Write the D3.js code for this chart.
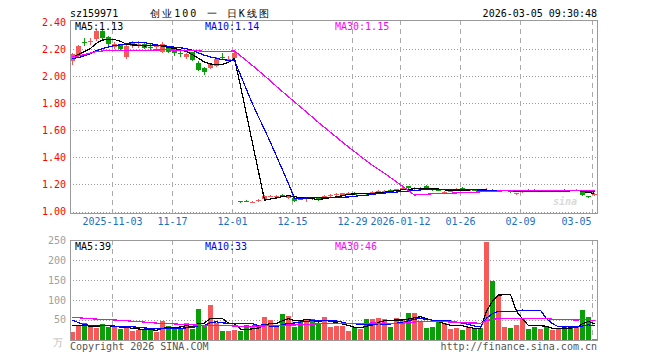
<!DOCTYPE html>
<html><head><meta charset="utf-8">
<script src="https://cdn.jsdelivr.net/npm/d3@7"></script>
<style>
body{margin:0;background:#fff}
svg{display:block}
text{font-family:"DejaVu Sans Mono",monospace;font-size:10px}
</style>
</head><body>
<svg id="c" width="660" height="360"></svg>
<script>
const dates = ["2025-10-23","2025-10-24","2025-10-27","2025-10-28","2025-10-29","2025-10-30","2025-10-31",
"2025-11-03","2025-11-04","2025-11-05","2025-11-06","2025-11-07","2025-11-10","2025-11-11","2025-11-12","2025-11-13","2025-11-14",
"2025-11-17","2025-11-18","2025-11-19","2025-11-20","2025-11-21","2025-11-24","2025-11-25","2025-11-26","2025-11-27","2025-11-28",
"2025-12-01","2025-12-02","2025-12-03","2025-12-04","2025-12-05","2025-12-08","2025-12-09","2025-12-10","2025-12-11","2025-12-12",
"2025-12-15","2025-12-16","2025-12-17","2025-12-18","2025-12-19","2025-12-22","2025-12-23","2025-12-24","2025-12-25","2025-12-26",
"2025-12-29","2025-12-30","2025-12-31",
"2026-01-05","2026-01-06","2026-01-07","2026-01-08","2026-01-09","2026-01-12","2026-01-13","2026-01-14","2026-01-15","2026-01-16",
"2026-01-19","2026-01-20","2026-01-21","2026-01-22","2026-01-23","2026-01-26","2026-01-27","2026-01-28","2026-01-29","2026-01-30",
"2026-02-02","2026-02-03","2026-02-04","2026-02-05","2026-02-06","2026-02-09","2026-02-10","2026-02-11","2026-02-12","2026-02-13",
"2026-02-24","2026-02-25","2026-02-26","2026-02-27",
"2026-03-02","2026-03-03","2026-03-04","2026-03-05"];

const open = [2.11,2.15,2.255,2.25,2.27,2.33,2.29,2.22,2.23,2.14,
2.22,2.23,2.24,2.215,2.215,2.18,2.21,2.19,2.17,2.14,
2.18,2.10,2.06,2.06,2.08,2.14,2.125,2.135,
1.08,1.079,
1.068,1.08,1.09,1.112,1.115,1.122,1.10,1.10,1.09,1.095,
1.097,1.097,1.112,1.118,1.125,1.125,1.133,1.14,1.132,1.135,
1.13,1.15,1.15,1.158,1.15,1.173,1.186,1.165,1.158,1.188,
1.165,1.157,1.143,1.148,1.152,1.172,1.153,1.162,1.155,1.155,
1.158,1.152,1.154,1.149,1.132,1.145,1.162,1.16,1.15,1.153,
1.149,1.152,1.16,1.158,1.155,1.152,1.115,1.122];

const close = [2.16,2.22,2.245,2.26,2.33,2.28,2.24,2.24,2.20,2.22,
2.25,2.235,2.21,2.21,2.22,2.24,2.18,2.17,2.16,2.16,
2.12,2.05,2.03,2.09,2.13,2.13,2.13,2.17,
1.078,1.075,
1.07,1.083,1.115,1.116,1.118,1.12,1.115,1.075,1.088,1.098,
1.095,1.082,1.115,1.121,1.128,1.137,1.136,1.127,1.135,1.128,
1.146,1.153,1.153,1.156,1.166,1.176,1.168,1.172,1.175,1.165,
1.16,1.155,1.145,1.155,1.168,1.17,1.156,1.158,1.148,1.16,
1.152,1.156,1.157,1.146,1.134,1.15,1.157,1.157,1.155,1.15,
1.152,1.158,1.155,1.155,1.16,1.12,1.108,1.127];

const high = [2.17,2.23,2.28,2.28,2.34,2.35,2.30,2.25,2.24,2.23,
2.26,2.26,2.25,2.24,2.23,2.25,2.22,2.20,2.19,2.17,
2.18,2.11,2.07,2.10,2.14,2.17,2.15,2.18,
1.08,1.083,
1.075,1.09,1.12,1.125,1.125,1.13,1.118,1.103,1.095,1.105,
1.10,1.10,1.12,1.13,1.135,1.14,1.143,1.142,1.14,1.14,
1.15,1.16,1.16,1.163,1.168,1.185,1.19,1.178,1.178,1.195,
1.17,1.162,1.15,1.158,1.17,1.178,1.163,1.165,1.158,1.175,
1.165,1.162,1.162,1.153,1.14,1.155,1.165,1.163,1.16,1.157,
1.156,1.162,1.164,1.162,1.165,1.155,1.118,1.135];

const low = [2.08,2.14,2.22,2.23,2.26,2.27,2.22,2.20,2.19,2.13,
2.21,2.21,2.20,2.19,2.20,2.17,2.17,2.15,2.14,2.13,
2.11,2.04,2.01,2.05,2.07,2.12,2.10,2.13,
1.062,1.068,
1.062,1.072,1.088,1.105,1.11,1.112,1.095,1.07,1.082,1.07,
1.088,1.08,1.105,1.11,1.118,1.12,1.125,1.124,1.128,1.125,
1.128,1.145,1.145,1.15,1.148,1.168,1.165,1.16,1.155,1.162,
1.155,1.148,1.138,1.145,1.15,1.165,1.148,1.152,1.145,1.145,
1.145,1.148,1.15,1.14,1.125,1.14,1.152,1.152,1.146,1.145,
1.145,1.148,1.15,1.15,1.152,1.115,1.098,1.118];

const volume = [20,35,41,34,30,38,32,31,26.5,29,
22,24,25.7,24,20,47.5,34,28,28,41,
27,77,35,87,42.5,21.5,21.5,24,
22,36.6,
31,32.5,56,49,34,64,59,32.5,47.5,51,
51,39,56,32,34,34.6,22,31,26.5,52,
52,55,52,32,55,52,67.7,67.7,45,30,
32,49,42.5,26.5,30,24,32,28,28,247,
148,110,32,30,36.6,51,26.5,32,26.5,32,
24,28,31,31,34,74.5,58,2];

// estimated closes / volumes of the 29 sessions before the window (needed for the moving averages)
const priorClose = [1.93,1.95,1.96,1.98,
2.15,2.18,2.20,2.22,2.21,2.19,2.20,2.23,2.21,2.18,2.19,2.20,2.22,2.19,2.17,2.16,
2.14,2.12,2.10,2.11,2.13,
2.12,2.13,2.15,2.14];
const priorVolume = [80,75,70,
60,55,58,52,56,62,57,
60,55,58,62,54,56,60,57,55,58,
98,102,38,35,34,45,40,38,40];

const tickDates = ["2025-11-03","2025-11-17","2025-12-01","2025-12-15","2025-12-29","2026-01-12","2026-01-26","2026-02-09","2026-03-05"];
const tickLabels = ["2025-11-03","11-17","12-01","12-15","12-29","2026-01-12","01-26","02-09","03-05"];
const priceTicks = [1.00,1.20,1.40,1.60,1.80,2.00,2.20,2.40];
const volTicks = [50,100,150,200,250];
const maPeriods = [5,10,30];
const maColors = ["#000000","#0000ff","#ff00ff"];
const priceMaValues = ["1.13","1.14","1.15"];
const volMaValues = ["39","33","46"];

const svg = d3.select("#c");
const MONO = '"DejaVu Sans Mono",monospace';
const UP = "#f65959", DOWN = "#0a9e0a";

const L = 70, R = 597;
const PT = 20, PB = 213, VT = 240, VB = 340;

const x = d3.scaleBand().domain(dates).range([L, R]).paddingInner(1/6).paddingOuter(0);
const yP = d3.scaleLinear().domain([1.0, 2.4]).range([211.5, 22]);
const yV = d3.scaleLinear().domain([0, 250]).range([339.5, 240.5]);
const cx = d => Math.round(x(d)) + 2.5;
const px = v => Math.round(v) + 0.5;

// gridlines
const grid = svg.append("g").attr("shape-rendering","crispEdges");
priceTicks.filter(t => t < 2.4).forEach(t => {
  grid.append("line").attr("x1",L).attr("x2",R+1).attr("y1",px(yP(t))).attr("y2",px(yP(t)))
    .attr("stroke","#999").attr("stroke-dasharray","1,2");
});
volTicks.filter(t => t < 250).forEach(t => {
  grid.append("line").attr("x1",L).attr("x2",R+1).attr("y1",px(yV(t))).attr("y2",px(yV(t)))
    .attr("stroke","#999").attr("stroke-dasharray","1,2");
});
tickDates.forEach(d => {
  const xx = Math.round(x(d)) + 0.5;
  [[PT,PB],[VT,VB]].forEach(([a,b]) => {
    grid.append("line").attr("x1",xx).attr("x2",xx).attr("y1",a).attr("y2",b)
      .attr("stroke","#aaa").attr("stroke-dasharray","5,4");
  });
});

// sina watermark
svg.append("text").attr("x",553).attr("y",205).text("sina")
  .attr("font-family","DejaVu Sans").attr("font-weight","bold").attr("font-style","italic")
  .attr("font-size",17).attr("fill","#d4d4d4").attr("opacity",0.85);

// candles
const cg = svg.append("g").attr("shape-rendering","crispEdges");
dates.forEach((d,i) => {
  const col = close[i] >= open[i] ? UP : DOWN;
  const xl = Math.round(x(d));
  cg.append("line").attr("x1",xl+2.5).attr("x2",xl+2.5)
    .attr("y1",yP(high[i])).attr("y2",yP(low[i])).attr("stroke",col);
  const top = yP(Math.max(open[i],close[i])), bot = yP(Math.min(open[i],close[i]));
  cg.append("rect").attr("x",xl).attr("width",5)
    .attr("y",Math.round(top)).attr("height",Math.max(1,Math.round(bot-top)))
    .attr("fill",col);
});

// volume bars
const vg = svg.append("g").attr("shape-rendering","crispEdges");
dates.forEach((d,i) => {
  const col = close[i] >= open[i] ? UP : DOWN;
  const y0 = Math.round(yV(volume[i]));
  vg.append("rect").attr("x",Math.round(x(d))).attr("width",5)
    .attr("y",y0).attr("height",Math.max(1,340-y0)).attr("fill",col);
});

// moving averages
function ma(prior, vals, n){
  const full = prior.concat(vals), off = prior.length;
  return vals.map((v,i) => d3.mean(full.slice(off+i-n+1, off+i+1)));
}
svg.append("clipPath").attr("id","cp").append("rect").attr("x",L).attr("y",PT).attr("width",R-L).attr("height",PB-PT);
svg.append("clipPath").attr("id","cv").append("rect").attr("x",L).attr("y",VT).attr("width",R-L).attr("height",VB-VT);
maPeriods.forEach((n,k) => {
  const mp = ma(priorClose, close, n);
  const mv = ma(priorVolume, volume, n);
  svg.append("path").attr("clip-path","url(#cp)")
    .attr("d", d3.line().x((v,i)=>cx(dates[i])).y(v=>yP(v))(mp))
    .attr("fill","none").attr("stroke",maColors[k]).attr("stroke-width",1.2).attr("shape-rendering","crispEdges");
  svg.append("path").attr("clip-path","url(#cv)")
    .attr("d", d3.line().x((v,i)=>cx(dates[i])).y(v=>yV(v))(mv))
    .attr("fill","none").attr("stroke",maColors[k]).attr("stroke-width",1.2).attr("shape-rendering","crispEdges");
});

// frames
const fr = svg.append("g").attr("shape-rendering","crispEdges").attr("fill","none").attr("stroke","#999");
fr.append("rect").attr("x",L+0.5).attr("y",PT+0.5).attr("width",R-L).attr("height",PB-PT);
fr.append("rect").attr("x",L+0.5).attr("y",VT+0.5).attr("width",R-L).attr("height",VB-VT);

// axes
const ay = svg.append("g").attr("transform",`translate(${L},0)`)
  .call(d3.axisLeft(yP).tickValues(priceTicks).tickFormat(d3.format(".2f")).tickSize(0).tickPadding(4));
ay.select(".domain").remove();
ay.attr("font-family",MONO).attr("font-size",10);
ay.selectAll("text").attr("fill","#ff0000");

const av = svg.append("g").attr("transform",`translate(${L},0)`)
  .call(d3.axisLeft(yV).tickValues(volTicks).tickFormat(d3.format("d")).tickSize(0).tickPadding(4));
av.select(".domain").remove();
av.attr("font-family",MONO).attr("font-size",10);
av.selectAll("text").attr("fill","#a0a0a0");

const ax = svg.append("g").attr("transform",`translate(-2,${PB})`)
  .call(d3.axisBottom(x).tickValues(tickDates).tickFormat((d,i)=>tickLabels[i]).tickSize(0).tickPadding(5));
ax.select(".domain").remove();
ax.attr("font-family",MONO).attr("font-size",10);
ax.selectAll("text").attr("fill","#1a6fc4");
ax.selectAll(".tick").filter((d,i)=>i===tickDates.length-1).select("text")
  .attr("text-anchor","end").attr("dx",-1);

// header
svg.append("text").attr("x",70).attr("y",16.5).text("sz159971").attr("fill","#000");
svg.append("text").attr("x",150).attr("y",17).text("创业100 一 日K线图")
  .attr("font-family",'"Noto Sans CJK SC",sans-serif').attr("font-size",12.5)
  .attr("textLength",119).attr("lengthAdjust","spacing").attr("fill","#000");
svg.append("text").attr("x",R).attr("y",16.5).attr("text-anchor","end").text("2026-03-05 09:30:48").attr("fill","#000");

// MA legends
const legX = [75,205,335];
maPeriods.forEach((n,k) => {
  svg.append("text").attr("x",legX[k]).attr("y",29.5).attr("fill",maColors[k]).text(`MA${n}:${priceMaValues[k]}`);
  svg.append("text").attr("x",legX[k]).attr("y",250).attr("fill",maColors[k]).text(`MA${n}:${volMaValues[k]}`);
});

// footer
svg.append("text").attr("x",70).attr("y",349.5).attr("fill","#555").text("Copyright 2026 SINA.COM");
svg.append("text").attr("x",R).attr("y",349.5).attr("text-anchor","end").attr("fill","#555").text("http://finance.sina.com.cn");
svg.append("text").attr("x",53).attr("y",346).attr("fill","#bbb")
  .attr("font-family",'"Noto Sans CJK SC",sans-serif').attr("font-size",11).text("万");
</script>
</body></html>
